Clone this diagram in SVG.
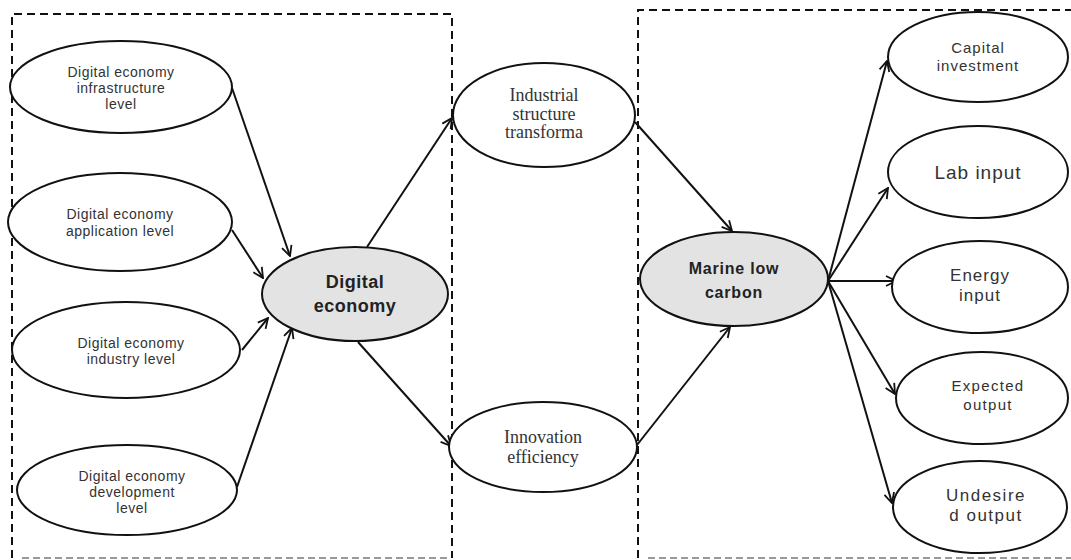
<svg xmlns="http://www.w3.org/2000/svg" width="1071" height="560" viewBox="0 0 1071 560">
<style>
.n{fill:#fff;stroke:#111;stroke-width:2}
.c{fill:#e3e3e3;stroke:#111;stroke-width:2}
.s{font-family:"Liberation Sans",Arial,sans-serif;fill:#333;text-anchor:middle}
.r{font-family:"Liberation Serif",serif;fill:#333;text-anchor:middle;font-size:18px}
.b{font-family:"Liberation Sans",Arial,sans-serif;font-weight:bold;fill:#222;text-anchor:middle}
.box{fill:none;stroke:#111;stroke-width:2;stroke-dasharray:8 5}
.bot{fill:none;stroke:#999;stroke-width:2;stroke-dasharray:7 4}
.e{fill:none;stroke:#111;stroke-width:2;marker-end:url(#a)}
</style>
<defs>
<marker id="a" viewBox="0 0 12 12" refX="11" refY="6" markerWidth="12" markerHeight="12" markerUnits="userSpaceOnUse" orient="auto">
<path d="M1,1 L11,6 L1,11" fill="none" stroke="#111" stroke-width="1.8"/>
</marker>
</defs>
<rect width="1071" height="560" fill="#fff"/>
<g id="boxes">
<path class="box" d="M12,558 V14 H452 V558"/>
<path class="bot" d="M22,558 H450"/>
<path class="box" d="M638,558 V10 H1071"/>
<path class="bot" d="M648,558 H1071"/>
</g>
<g id="connectors">
<line class="e" x1="232" y1="88" x2="290" y2="256"/>
<line class="e" x1="232" y1="230" x2="263" y2="278"/>
<line class="e" x1="242" y1="350" x2="268" y2="318"/>
<line class="e" x1="237" y1="487" x2="292" y2="328"/>
<line class="e" x1="367" y1="247" x2="452" y2="118"/>
<line class="e" x1="358" y1="342" x2="451" y2="446"/>
<line class="e" x1="635" y1="122" x2="732" y2="231"/>
<line class="e" x1="637" y1="445" x2="730" y2="327"/>
<line class="e" x1="828" y1="281" x2="887" y2="61"/>
<line class="e" x1="828" y1="281" x2="888" y2="188"/>
<line class="e" x1="828" y1="281" x2="896" y2="281"/>
<line class="e" x1="828" y1="281" x2="895" y2="394"/>
<line class="e" x1="828" y1="281" x2="892" y2="503"/>
</g>
<g id="n-infra">
<ellipse class="n" cx="121" cy="87" rx="111" ry="46"/>
<text class="s" font-size="14" letter-spacing="0.5"><tspan x="121" y="77">Digital economy</tspan><tspan x="121" y="93">infrastructure</tspan><tspan x="121" y="109">level</tspan></text>
</g>
<g id="n-app">
<ellipse class="n" cx="120" cy="222" rx="112" ry="49"/>
<text class="s" font-size="14" letter-spacing="0.5"><tspan x="120" y="219">Digital economy</tspan><tspan x="120" y="236">application level</tspan></text>
</g>
<g id="n-industry">
<ellipse class="n" cx="126" cy="350" rx="114" ry="48"/>
<text class="s" font-size="14" letter-spacing="0.5"><tspan x="131" y="348">Digital economy</tspan><tspan x="131" y="364">industry level</tspan></text>
</g>
<g id="n-dev">
<ellipse class="n" cx="127" cy="490" rx="110" ry="45"/>
<text class="s" font-size="14" letter-spacing="0.5"><tspan x="132" y="481">Digital economy</tspan><tspan x="132" y="497">development</tspan><tspan x="132" y="513">level</tspan></text>
</g>
<g id="n-digital">
<ellipse class="c" cx="355" cy="294" rx="93" ry="47"/>
<text class="b" font-size="18" letter-spacing="0.5"><tspan x="355" y="288">Digital</tspan><tspan x="355" y="312">economy</tspan></text>
</g>
<g id="n-ist">
<ellipse class="n" cx="544" cy="115" rx="91" ry="52"/>
<text class="r"><tspan x="544" y="101">Industrial</tspan><tspan x="544" y="120">structure</tspan><tspan x="544" y="138">transforma</tspan></text>
</g>
<g id="n-innov">
<ellipse class="n" cx="543" cy="447" rx="94" ry="45"/>
<text class="r"><tspan x="543" y="443">Innovation</tspan><tspan x="543" y="463">efficiency</tspan></text>
</g>
<g id="n-marine">
<ellipse class="c" cx="734" cy="279" rx="94" ry="47"/>
<text class="b" font-size="16" letter-spacing="0.8"><tspan x="734" y="274">Marine low</tspan><tspan x="734" y="298">carbon</tspan></text>
</g>
<g id="n-capital">
<ellipse class="n" cx="978" cy="57" rx="90" ry="45"/>
<text class="s" font-size="15" letter-spacing="1"><tspan x="978" y="53">Capital</tspan><tspan x="978" y="71">investment</tspan></text>
</g>
<g id="n-lab">
<ellipse class="n" cx="978" cy="172" rx="90" ry="46"/>
<text class="s" font-size="19" letter-spacing="1"><tspan x="978" y="179">Lab input</tspan></text>
</g>
<g id="n-energy">
<ellipse class="n" cx="980" cy="287" rx="88" ry="46"/>
<text class="s" font-size="17" letter-spacing="1"><tspan x="980" y="281">Energy</tspan><tspan x="980" y="301">input</tspan></text>
</g>
<g id="n-expected">
<ellipse class="n" cx="982" cy="398" rx="86" ry="46"/>
<text class="s" font-size="15" letter-spacing="1.3"><tspan x="988" y="391">Expected</tspan><tspan x="988" y="410">output</tspan></text>
</g>
<g id="n-undesired">
<ellipse class="n" cx="980" cy="507" rx="87" ry="46"/>
<text class="s" font-size="17" letter-spacing="1.5"><tspan x="986" y="501">Undesire</tspan><tspan x="986" y="521">d output</tspan></text>
</g>
</svg>
